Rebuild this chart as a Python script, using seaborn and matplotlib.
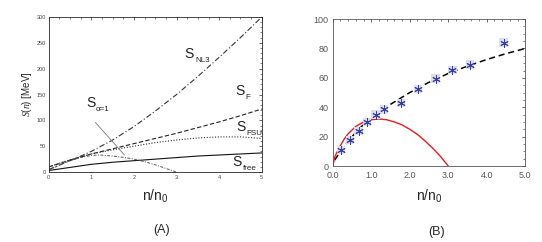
import matplotlib
matplotlib.use("Agg")
import matplotlib.pyplot as plt
import seaborn as sns
from matplotlib.ticker import AutoMinorLocator

sns.set_style("white")
plt.rcParams["font.family"] = ["Liberation Sans", "DejaVu Sans"]
plt.rcParams["mathtext.fontset"] = "custom"
plt.rcParams["mathtext.rm"] = "Liberation Sans"
plt.rcParams["mathtext.it"] = "Liberation Serif:italic"

# Panel A: symmetry energy curves
x_a = [0.0, 0.5, 1.0, 1.5, 2.0, 2.5, 3.0, 3.5, 4.0, 4.5, 5.0]
s_nl3 = [5, 22, 40, 62, 88, 118, 150, 185, 222, 260, 300]
s_f = [10, 23, 35, 45, 55, 65, 75, 86, 97, 109, 122]
s_fsu = [10, 24, 35, 43, 50, 57, 62, 66, 68, 68, 65]
s_free = [3, 9, 15, 19, 22, 25, 28, 31, 33, 35, 37]
x_alpha = [0.0, 0.25, 0.5, 0.75, 1.0, 1.2, 1.5, 1.8, 2.0, 2.25, 2.5, 2.75, 3.0]
s_alpha = [3, 14, 22, 28, 32, 33, 31, 28, 25, 20, 14, 7, 0]

# Panel B
x_pts = [0.22, 0.44, 0.67, 0.89, 1.11, 1.33, 1.78, 2.22, 2.67, 3.11, 3.56, 4.44]
y_pts = [11, 17.5, 24, 30, 35, 38.5, 43, 52.5, 59.5, 65.5, 69, 84]
x_dash = [0.05, 0.25, 0.5, 0.75, 1.0, 1.5, 2.0, 2.5, 3.0, 3.5, 4.0, 4.5, 5.0]
y_dash = [4, 12, 20, 27, 32, 42, 50, 57, 63, 68, 72.5, 76.5, 80]
x_red = [0.0, 0.05, 0.1, 0.2, 0.3, 0.4, 0.5, 0.6, 0.8, 1.0, 1.2, 1.4, 1.6, 1.8, 2.0, 2.2, 2.4, 2.6, 2.8, 3.0]
y_red = [0, 6, 9, 14, 18.5, 22, 24.5, 27, 30, 31.5, 32, 31.5, 30, 28, 25, 21.5, 17, 12, 6.5, 0]

fig = plt.figure(figsize=(5.42, 2.42), dpi=100)
ax1 = fig.add_axes([0.090, 0.289, 0.393, 0.641])
ax2 = fig.add_axes([0.614, 0.314, 0.355, 0.607])

# --- Panel A ---
sns.lineplot(x=x_a, y=s_nl3, ax=ax1, color="#333333", lw=0.8, linestyle=(0, (5, 2, 1, 2)))
sns.lineplot(x=x_a, y=s_f, ax=ax1, color="#222222", lw=0.8, linestyle=(0, (4, 2)))
sns.lineplot(x=x_a, y=s_fsu, ax=ax1, color="#333333", lw=0.8, linestyle=(0, (1, 1.5)))
sns.lineplot(x=x_a, y=s_free, ax=ax1, color="#111111", lw=0.8, linestyle="-")
sns.lineplot(x=x_alpha, y=s_alpha, ax=ax1, color="#555555", lw=0.7, linestyle=(0, (3, 1.5, 1, 1.5)))
ax1.set_xlim(0, 5)
ax1.set_ylim(0, 300)
ax1.set_xticks([0, 1, 2, 3, 4, 5])
ax1.set_yticks([0, 50, 100, 150, 200, 250, 300])
ax1.xaxis.set_minor_locator(AutoMinorLocator(4))
ax1.yaxis.set_minor_locator(AutoMinorLocator(5))
ax1.tick_params(which="both", direction="in", top=True, right=True, labelsize=4, pad=2,
                labelcolor="#444444")
ax1.tick_params(which="major", length=2.5, width=0.5)
ax1.tick_params(which="minor", length=1.5, width=0.4)
for s in ax1.spines.values():
    s.set_linewidth(0.6)
ax1.set_xlabel("n/n$_\\mathrm{0}$", fontsize=10, labelpad=6)
ax1.set_ylabel("$S(n)$ [MeV]", fontsize=7, labelpad=2)


def curve_label(ax, x, y, sub, dy=8):
    ax.text(x, y, "S", fontsize=10, color="#222222")
    ax.text(x + 0.24, y - dy, sub, fontsize=5.8, color="#222222")


curve_label(ax1, 3.19, 220, "NL3")
curve_label(ax1, 4.37, 150, "F")
curve_label(ax1, 4.40, 80, "FSU")
curve_label(ax1, 4.32, 12, "free")
curve_label(ax1, 0.87, 126, "\u03b1=1", dy=7)
ax1.annotate("", xy=(1.82, 29), xytext=(1.05, 100),
             arrowprops=dict(arrowstyle="-", color="#777777", lw=0.6))

fig.text(0.299, 0.05, "(A)", fontsize=9, ha="center", va="center")

# --- Panel B ---
sns.lineplot(x=x_dash, y=y_dash, ax=ax2, color="black", lw=1.1, linestyle=(0, (4, 2.5)))
sns.lineplot(x=x_red, y=y_red, ax=ax2, color="#e0201f", lw=1.0)
sns.scatterplot(x=x_pts, y=y_pts, ax=ax2, marker="s", s=36, color="#dadded",
                edgecolor="none", zorder=3)
sns.scatterplot(x=x_pts, y=y_pts, ax=ax2, marker=(6, 2, 0), s=30, color="#3a3f9a",
                linewidth=0.7, zorder=4)
ax2.set_xlim(0, 5)
ax2.set_ylim(0, 100)
ax2.set_xticks([0, 1, 2, 3, 4, 5])
ax2.set_xticklabels(["0.0", "1.0", "2.0", "3.0", "4.0", "5.0"])
ax2.set_yticks([0, 20, 40, 60, 80, 100])
ax2.xaxis.set_minor_locator(AutoMinorLocator(5))
ax2.yaxis.set_minor_locator(AutoMinorLocator(4))
ax2.tick_params(which="both", direction="in", top=True, right=True, labelsize=6.5,
                labelcolor="#555555")
ax2.tick_params(axis="x", pad=3.5)
ax2.tick_params(axis="y", pad=3)
ax2.tick_params(which="major", length=2.5, width=0.5)
ax2.tick_params(which="minor", length=1.5, width=0.4)
for s in ax2.spines.values():
    s.set_linewidth(0.6)
    s.set_color("#555555")
ax2.set_xlabel("n/n$_\\mathrm{0}$", fontsize=10, labelpad=6)

fig.text(0.806, 0.041, "(B)", fontsize=9, ha="center", va="center")

fig.savefig("out.png", dpi=100)
